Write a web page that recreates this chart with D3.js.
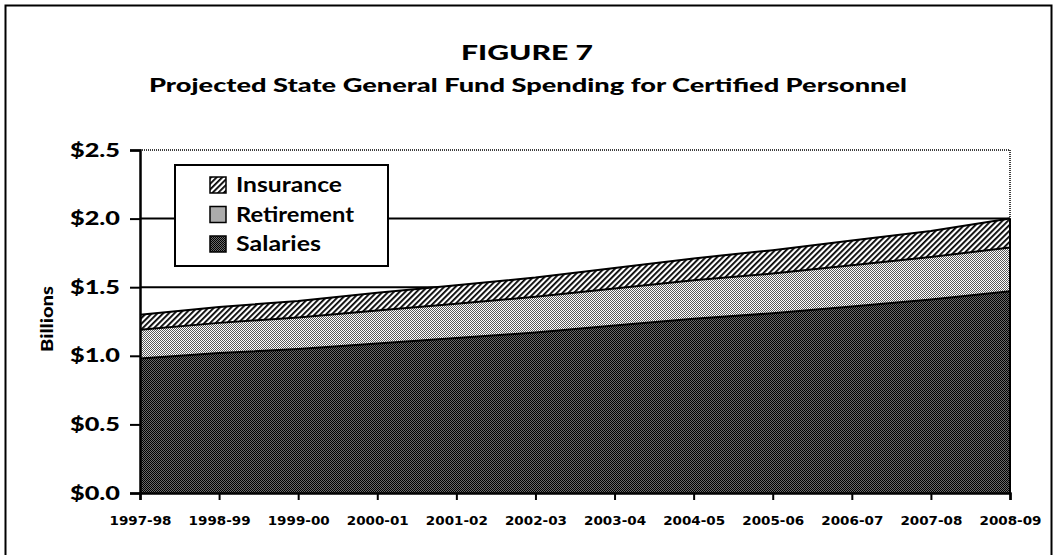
<!DOCTYPE html>
<html lang="en">
<head>
  <meta charset="UTF-8">
  <title>Figure 7</title>
  <script src="https://d3js.org/d3.v7.min.js"></script>
  <style>
    body { margin: 0; background: #fff; }
    svg { display: block; }
    .title { font-family: "Lato", sans-serif; font-weight: 900; }
  </style>
</head>
<body>
<svg width="1057" height="555"></svg>
<script>
  const years = ["1997-98","1998-99","1999-00","2000-01","2001-02","2002-03",
                 "2003-04","2004-05","2005-06","2006-07","2007-08","2008-09"];
  const salaries   = [0.98,1.02,1.05,1.09,1.13,1.17,1.22,1.27,1.31,1.36,1.41,1.47];
  const retirement = [0.21,0.22,0.23,0.24,0.25,0.26,0.27,0.28,0.29,0.30,0.31,0.32];
  const insurance  = [0.11,0.115,0.12,0.13,0.135,0.14,0.15,0.16,0.17,0.18,0.19,0.21];
  const yTicks = [0, 0.5, 1.0, 1.5, 2.0, 2.5];
  const seriesNames = ["Salaries","Retirement","Insurance"];

  const svg = d3.select("svg");
  const m = { left: 140, right: 1010, top: 150, bottom: 493 };

  // fill patterns (dithered greys + diagonal hatching)
  const defs = svg.append("defs");
  const checker = (id, a, b) => {
    const p = defs.append("pattern").attr("id", id)
      .attr("width", 2).attr("height", 2).attr("patternUnits", "userSpaceOnUse");
    p.append("rect").attr("width", 2).attr("height", 2).attr("fill", b);
    p.append("rect").attr("width", 1).attr("height", 1).attr("fill", a);
    p.append("rect").attr("x", 1).attr("y", 1).attr("width", 1).attr("height", 1).attr("fill", a);
  };
  checker("pSal", "#000", "#6a6a6a");
  checker("pRet", "#5a5a5a", "#fff");
  const st = defs.append("pattern").attr("id", "pIns")
    .attr("width", 4).attr("height", 4).attr("patternUnits", "userSpaceOnUse")
    .attr("patternTransform", "rotate(45)");
  st.append("rect").attr("width", 4).attr("height", 4).attr("fill", "#fff");
  st.append("rect").attr("width", 1.8).attr("height", 4).attr("fill", "#000");
  const fills = { Salaries: "url(#pSal)", Retirement: "url(#pRet)", Insurance: "url(#pIns)" };

  // outer frame
  svg.append("rect").attr("x", 5.5).attr("y", 5.5).attr("width", 1046).attr("height", 560)
    .attr("fill", "none").attr("stroke", "#000").attr("stroke-width", 2);

  svg.append("text").attr("class", "title").attr("x", 527).attr("y", 60)
    .attr("text-anchor", "middle").attr("font-size", 21)
    .attr("textLength", 132).attr("lengthAdjust", "spacingAndGlyphs").text("FIGURE 7");
  svg.append("text").attr("class", "title").attr("x", 528).attr("y", 92)
    .attr("text-anchor", "middle").attr("font-size", 18)
    .attr("textLength", 758).attr("lengthAdjust", "spacingAndGlyphs")
    .text("Projected State General Fund Spending for Certified Personnel");

  const x = d3.scalePoint().domain(years).range([m.left, m.right]);
  const y = d3.scaleLinear().domain([0, 2.5]).range([m.bottom, m.top]);

  // plot border (dotted) and gridlines
  svg.append("path")
    .attr("d", `M${m.left},${y(2.5)}H${m.right}V${m.bottom}`)
    .attr("fill", "none").attr("stroke", "#000").attr("stroke-width", 1.5)
    .attr("stroke-dasharray", "1,1");
  svg.append("g").selectAll("line").data(yTicks.filter(d => d > 0 && d < 2.5)).join("line")
    .attr("x1", m.left).attr("x2", m.right).attr("y1", d => y(d)).attr("y2", d => y(d))
    .attr("stroke", "#000").attr("stroke-width", 2);

  const table = years.map((yr, i) => ({ year: yr, Salaries: salaries[i], Retirement: retirement[i], Insurance: insurance[i] }));
  const stacked = d3.stack().keys(seriesNames)(table);
  const area = d3.area().x(d => x(d.data.year)).y0(d => y(d[0])).y1(d => y(d[1]));
  const line = d3.line().x(d => x(d.data.year)).y(d => y(d[1]));

  svg.append("g").selectAll("path").data(stacked).join("path")
    .attr("d", area).attr("fill", d => fills[d.key]);
  svg.append("g").selectAll("path").data(stacked).join("path")
    .attr("d", line).attr("fill", "none").attr("stroke", "#000").attr("stroke-width", 2);
  const last = stacked[stacked.length - 1][years.length - 1];
  svg.append("line").attr("x1", m.right).attr("x2", m.right)
    .attr("y1", y(last[1])).attr("y2", m.bottom)
    .attr("stroke", "#000").attr("stroke-width", 2);

  // axes
  const yAxis = svg.append("g").attr("transform", `translate(${m.left},0)`)
    .call(d3.axisLeft(y).tickValues(yTicks).tickFormat(d => "$" + d.toFixed(1)).tickSize(10).tickPadding(10));
  yAxis.select(".domain").attr("stroke-width", 2.5);
  yAxis.selectAll(".tick line").attr("stroke-width", 2);
  yAxis.selectAll("text").attr("font-family", "Lato, sans-serif").attr("font-weight", 900)
    .attr("font-size", 19).attr("fill", "#000")
    .attr("textLength", 50).attr("lengthAdjust", "spacingAndGlyphs");

  const xAxis = svg.append("g").attr("transform", `translate(0,${m.bottom})`)
    .call(d3.axisBottom(x).tickSize(7).tickPadding(16));
  xAxis.select(".domain").attr("stroke-width", 2.5);
  xAxis.selectAll(".tick line").attr("stroke-width", 2);
  xAxis.selectAll("text").attr("font-family", "DejaVu Sans, sans-serif").attr("font-weight", "bold")
    .attr("font-size", 12.5).attr("fill", "#000")
    .attr("textLength", 62).attr("lengthAdjust", "spacingAndGlyphs");

  svg.append("text").attr("class", "title")
    .attr("transform", "translate(53,319) rotate(-90)")
    .attr("text-anchor", "middle").attr("font-size", 16)
    .attr("textLength", 66).attr("lengthAdjust", "spacingAndGlyphs").text("Billions");

  // legend
  const lg = svg.append("g");
  lg.append("rect").attr("x", 175).attr("y", 165).attr("width", 213).attr("height", 101)
    .attr("fill", "#fff").attr("stroke", "#000").attr("stroke-width", 2);
  const items = ["Insurance", "Retirement", "Salaries"];
  const itemWidth = { Insurance: 106, Retirement: 118, Salaries: 85 };
  const row = lg.selectAll("g.item").data(items).join("g").attr("class", "item")
    .attr("transform", (d, i) => `translate(210,${177 + i * 29.5})`);
  row.append("rect").attr("width", 16).attr("height", 16)
    .attr("fill", d => fills[d]).attr("stroke", "#000").attr("stroke-width", 1.5);
  row.append("text").attr("x", 26).attr("y", 15)
    .attr("font-family", "Lato, sans-serif").attr("font-weight", 700).attr("font-size", 21)
    .attr("textLength", d => itemWidth[d]).attr("lengthAdjust", "spacingAndGlyphs")
    .text(d => d);
</script>
</body>
</html>
